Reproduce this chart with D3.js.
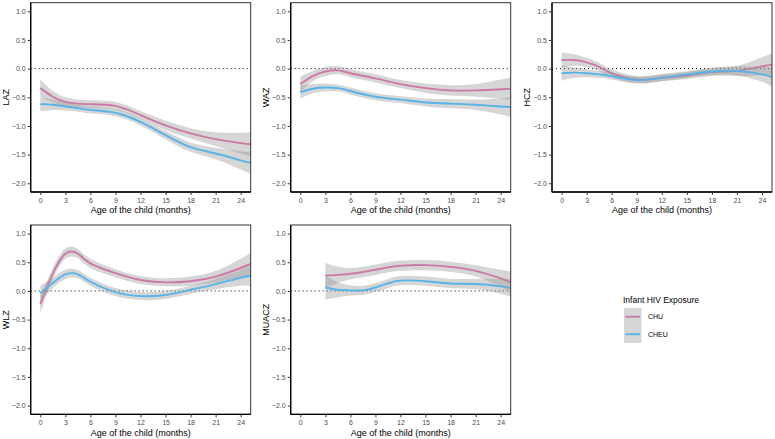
<!DOCTYPE html>
<html>
<head>
<meta charset="utf-8">
<script src="https://cdn.jsdelivr.net/npm/d3@7"></script>
<style>
  body { margin: 0; background: #fff; }
  svg { font-family: "Liberation Sans", Arial, sans-serif; }
</style>
</head>
<body>
<svg id="chart" width="775" height="439"></svg>
<script>
var months = [0, 1.5, 3, 4.5, 6, 9, 12, 15, 18, 21, 24, 25.2];
var monthsMuac = [3, 4.5, 6, 7.5, 9, 10.5, 12, 15, 18, 21, 24, 25.2];

var xTicks = [0, 3, 6, 9, 12, 15, 18, 21, 24];
var yTicks = [1.0, 0.5, 0.0, -0.5, -1.0, -1.5, -2.0];

var groups = ["CHU", "CHEU"];
var groupColors = ["#CC79A7", "#56B4E9"];

// LAZ
var lazChu = [-0.34, -0.49, -0.58, -0.61, -0.62, -0.65, -0.81, -0.99, -1.13, -1.23, -1.30, -1.32];
var lazChuSe = [0.15, 0.1, 0.08, 0.07, 0.07, 0.07, 0.07, 0.08, 0.09, 0.12, 0.18, 0.21];
var lazCheu = [-0.62, -0.63, -0.66, -0.69, -0.72, -0.77, -0.93, -1.16, -1.37, -1.48, -1.60, -1.64];
var lazCheuSe = [0.12, 0.09, 0.07, 0.06, 0.06, 0.06, 0.06, 0.07, 0.08, 0.1, 0.16, 0.19];
// WAZ
var wazChu = [-0.27, -0.13, -0.05, -0.03, -0.08, -0.17, -0.27, -0.34, -0.38, -0.38, -0.36, -0.35];
var wazChuSe = [0.13, 0.09, 0.08, 0.07, 0.07, 0.07, 0.07, 0.08, 0.09, 0.11, 0.17, 0.2];
var wazCheu = [-0.41, -0.35, -0.33, -0.34, -0.39, -0.49, -0.54, -0.59, -0.61, -0.63, -0.66, -0.67];
var wazCheuSe = [0.11, 0.08, 0.07, 0.06, 0.06, 0.06, 0.06, 0.07, 0.08, 0.09, 0.14, 0.18];
// HCZ
var hczChu = [0.15, 0.15, 0.11, 0.03, -0.08, -0.19, -0.16, -0.12, -0.06, -0.04, 0.04, 0.07];
var hczChuSe = [0.13, 0.1, 0.08, 0.07, 0.07, 0.06, 0.06, 0.06, 0.07, 0.09, 0.16, 0.19];
var hczCheu = [-0.08, -0.07, -0.08, -0.10, -0.13, -0.20, -0.16, -0.10, -0.05, -0.04, -0.10, -0.15];
var hczCheuSe = [0.13, 0.09, 0.07, 0.06, 0.06, 0.06, 0.06, 0.06, 0.06, 0.08, 0.13, 0.17];
// WLZ
var wlzChu = [-0.23, 0.3, 0.65, 0.65, 0.48, 0.31, 0.19, 0.15, 0.17, 0.25, 0.40, 0.47];
var wlzChuSe = [0.15, 0.1, 0.09, 0.08, 0.08, 0.07, 0.07, 0.07, 0.08, 0.1, 0.16, 0.2];
var wlzCheu = [-0.04, 0.14, 0.29, 0.29, 0.16, -0.02, -0.09, -0.07, 0.02, 0.12, 0.23, 0.26];
var wlzCheuSe = [0.13, 0.09, 0.08, 0.07, 0.07, 0.07, 0.07, 0.07, 0.07, 0.09, 0.14, 0.18];
// MUACZ
var muacChu = [0.27, 0.28, 0.30, 0.33, 0.37, 0.41, 0.44, 0.45, 0.42, 0.35, 0.22, 0.15];
var muacChuSe = [0.22, 0.14, 0.1, 0.09, 0.09, 0.09, 0.09, 0.09, 0.09, 0.1, 0.15, 0.19];
var muacCheu = [0.06, 0.02, 0.01, 0.01, 0.06, 0.13, 0.18, 0.17, 0.13, 0.12, 0.08, 0.05];
var muacCheuSe = [0.21, 0.13, 0.09, 0.08, 0.08, 0.08, 0.08, 0.08, 0.08, 0.09, 0.13, 0.16];

var panels = [
  { label: "LAZ", x: months, series: [[lazChu, lazChuSe], [lazCheu, lazCheuSe]], col: 0, row: 0 },
  { label: "WAZ", x: months, series: [[wazChu, wazChuSe], [wazCheu, wazCheuSe]], col: 1, row: 0 },
  { label: "HCZ", x: months, series: [[hczChu, hczChuSe], [hczCheu, hczCheuSe]], col: 2, row: 0 },
  { label: "WLZ", x: months, series: [[wlzChu, wlzChuSe], [wlzCheu, wlzCheuSe]], col: 0, row: 1 },
  { label: "MUACZ", x: monthsMuac, series: [[muacChu, muacChuSe], [muacCheu, muacCheuSe]], col: 1, row: 1 }
];

var svg = d3.select("#chart");
var colLeft = [30.7, 290.7, 552];
var rowTop = [2.7, 225];
var pw = 220, ph = 189.3;

var x = d3.scaleLinear().domain([-1.15, 25.2]).range([0, pw]);
var y = d3.scaleLinear().domain([-2.152, 1.15]).range([ph, 0]);

panels.forEach(function (p, pi) {
  var g = svg.append("g")
    .attr("transform", "translate(" + colLeft[p.col] + "," + rowTop[p.row] + ")");

  g.append("clipPath").attr("id", "clip" + pi)
    .append("rect").attr("width", pw).attr("height", ph);

  var plot = g.append("g").attr("clip-path", "url(#clip" + pi + ")");

  // zero reference
  plot.append("line")
    .attr("x1", 0).attr("x2", pw)
    .attr("y1", y(0)).attr("y2", y(0))
    .attr("stroke", "#000").attr("stroke-width", 1)
    .attr("stroke-dasharray", "1,3");

  p.series.forEach(function (s, si) {
    var pts = p.x.map(function (m, i) { return { m: m, v: s[0][i], se: s[1][i] }; });
    var area = d3.area()
      .x(function (d) { return x(d.m); })
      .y0(function (d) { return y(d.v - d.se); })
      .y1(function (d) { return y(d.v + d.se); })
      .curve(d3.curveNatural);
    var line = d3.line()
      .x(function (d) { return x(d.m); })
      .y(function (d) { return y(d.v); })
      .curve(d3.curveNatural);
    plot.append("path").datum(pts)
      .attr("d", area)
      .attr("fill", "#999999").attr("fill-opacity", 0.4);
    plot.append("path").datum(pts)
      .attr("d", line)
      .attr("fill", "none")
      .attr("stroke", groupColors[si])
      .attr("stroke-width", 1.9);
  });

  // border
  g.append("rect")
    .attr("width", pw).attr("height", ph)
    .attr("fill", "none").attr("stroke", "#333").attr("stroke-width", 1);

  var xAxis = g.append("g")
    .attr("transform", "translate(0," + ph + ")")
    .call(d3.axisBottom(x).tickValues(xTicks).tickSize(3).tickPadding(3));
  var yAxis = g.append("g")
    .call(d3.axisLeft(y).tickValues(yTicks).tickSize(3).tickPadding(2)
      .tickFormat(d3.format(".1f")));

  [xAxis, yAxis].forEach(function (a) {
    a.select(".domain").attr("stroke", "#000").attr("stroke-width", 1.3);
    a.selectAll(".tick line").attr("stroke", "#333");
    a.selectAll(".tick text").attr("fill", "#4d4d4d").style("font-size", "7px");
  });
  xAxis.select(".domain").attr("d", "M0,0H" + pw);
  yAxis.select(".domain").attr("d", "M0,0V" + ph);

  g.append("text")
    .attr("x", pw / 2).attr("y", ph + 21.5)
    .attr("text-anchor", "middle")
    .style("font-size", "9px").attr("fill", "#000")
    .text("Age of the child (months)");

  g.append("text")
    .attr("transform", "translate(-22," + (ph / 2) + ") rotate(-90)")
    .attr("text-anchor", "middle")
    .style("font-size", "9px").attr("fill", "#000")
    .text(p.label);
});

// legend
var lg = svg.append("g").attr("transform", "translate(623,300)");
lg.append("text").attr("x", 0).attr("y", 3)
  .style("font-size", "8.5px").attr("fill", "#000")
  .text("Infant HIV Exposure");
groups.forEach(function (name, i) {
  var ky = 8 + i * 17.5;
  lg.append("rect").attr("x", 1).attr("y", ky)
    .attr("width", 17.5).attr("height", 17.5)
    .attr("fill", "#999999").attr("fill-opacity", 0.4);
  lg.append("line").attr("x1", 2.5).attr("x2", 17)
    .attr("y1", ky + 8.75).attr("y2", ky + 8.75)
    .attr("stroke", groupColors[i]).attr("stroke-width", 1.9);
  lg.append("text").attr("x", 25).attr("y", ky + 11.3)
    .style("font-size", "7px").attr("fill", "#000")
    .text(name);
});
</script>
</body>
</html>
